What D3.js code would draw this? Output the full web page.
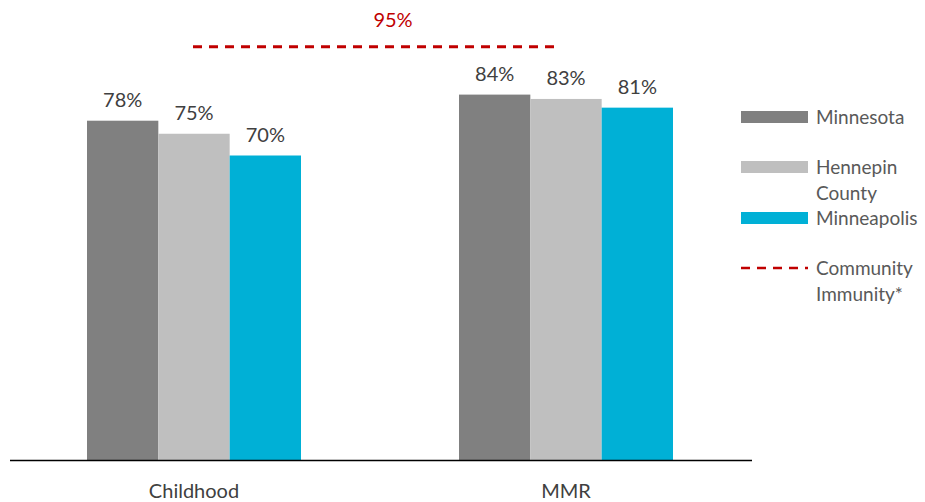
<!DOCTYPE html>
<html>
<head>
<meta charset="utf-8">
<script src="https://cdn.jsdelivr.net/npm/d3@7"></script>
<style>
  body { margin: 0; background: #fff; }
  svg { font-family: Lato, 'Open Sans', sans-serif; font-weight: 400; }
</style>
</head>
<body>
<script>
const categories = ['Childhood', 'MMR'];
const seriesNames = ['Minnesota', 'Hennepin County', 'Minneapolis'];
const minnesota = [78, 84];
const hennepin = [75, 83];
const minneapolis = [70, 81];
const immunityTarget = 95;
const legendLines = [['Minnesota'], ['Hennepin', 'County'], ['Minneapolis']];

const colors = ['#808080', '#bfbfbf', '#00b0d6'];
const values = [minnesota, hennepin, minneapolis];

const width = 925, height = 502;
const baseY = 460;

const svg = d3.select('body')
  .append('svg')
  .attr('width', width)
  .attr('height', height);

const x0 = d3.scaleBand()
  .domain(categories)
  .range([8, 752])
  .paddingInner(0)
  .paddingOuter(0);

const x1 = d3.scaleBand()
  .domain(seriesNames)
  .range([0, 214]);

const y = d3.scaleLinear()
  .domain([0, 100])
  .range([baseY, 25]);

const groups = svg.selectAll('g.cat')
  .data(categories)
  .enter()
  .append('g')
  .attr('class', 'cat')
  .attr('transform', d => `translate(${x0(d) + x0.bandwidth() / 2 - 107}, 0)`);

groups.selectAll('rect')
  .data((d, i) => seriesNames.map((s, j) => ({ s, j, v: values[j][i] })))
  .enter()
  .append('rect')
  .attr('x', d => x1(d.s))
  .attr('width', x1.bandwidth())
  .attr('y', d => y(d.v))
  .attr('height', d => baseY - y(d.v))
  .attr('fill', d => colors[d.j]);

groups.selectAll('text.val')
  .data((d, i) => seriesNames.map((s, j) => ({ s, j, v: values[j][i] })))
  .enter()
  .append('text')
  .attr('class', 'val')
  .attr('x', d => x1(d.s) + x1.bandwidth() / 2)
  .attr('y', d => y(d.v) - 14)
  .attr('text-anchor', 'middle')
  .attr('fill', '#404040')
  .attr('font-size', 20)
  .text(d => d.v + '%');

// axis line
svg.append('line')
  .attr('x1', 10)
  .attr('x2', 752)
  .attr('y1', baseY + 0.5)
  .attr('y2', baseY + 0.5)
  .attr('stroke', '#000')
  .attr('stroke-width', 1.5);

svg.selectAll('text.cat')
  .data(categories)
  .enter()
  .append('text')
  .attr('class', 'cat')
  .attr('x', d => x0(d) + x0.bandwidth() / 2)
  .attr('y', 498)
  .attr('text-anchor', 'middle')
  .attr('fill', '#404040')
  .attr('font-size', 20)
  .text(d => d);

// community immunity line
const ty = y(immunityTarget);
svg.append('line')
  .attr('x1', x0('Childhood') + x0.bandwidth() / 2 - 1)
  .attr('x2', x0('MMR') + x0.bandwidth() / 2 - 6)
  .attr('y1', ty)
  .attr('y2', ty)
  .attr('stroke', '#c00000')
  .attr('stroke-width', 3)
  .attr('stroke-dasharray', '9,7');

svg.append('text')
  .attr('x', 393)
  .attr('y', 27)
  .attr('text-anchor', 'middle')
  .attr('fill', '#c00000')
  .attr('font-size', 20)
  .text(immunityTarget + '%');

// legend
const legendY = [117, 167, 218];
const legend = svg.append('g');

legendLines.forEach((lines, i) => {
  legend.append('rect')
    .attr('x', 741)
    .attr('y', legendY[i] - 6)
    .attr('width', 67)
    .attr('height', 12)
    .attr('fill', colors[i]);
  lines.forEach((t, k) => {
    legend.append('text')
      .attr('x', 816)
      .attr('y', legendY[i] + 7 + k * 26)
      .attr('fill', '#595959')
      .attr('font-size', 19)
      .text(t);
  });
});

legend.append('line')
  .attr('x1', 741)
  .attr('x2', 808)
  .attr('y1', 268)
  .attr('y2', 268)
  .attr('stroke', '#c00000')
  .attr('stroke-width', 2.5)
  .attr('stroke-dasharray', '9,7');

['Community', 'Immunity*'].forEach((t, k) => {
  legend.append('text')
    .attr('x', 816)
    .attr('y', 275 + k * 26)
    .attr('fill', '#595959')
    .attr('font-size', 19)
    .text(t);
});
</script>
</body>
</html>
